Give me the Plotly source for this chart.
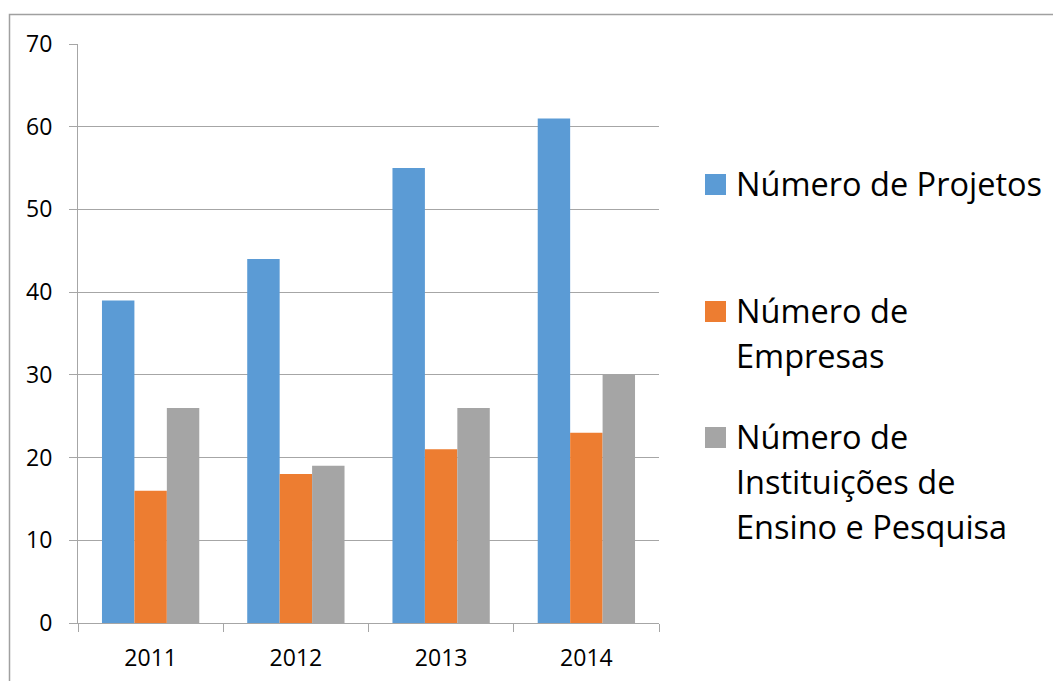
import plotly.graph_objects as go

years = ["2011", "2012", "2013", "2014"]
projetos = [39, 44, 55, 61]
empresas = [16, 18, 21, 23]
instituicoes = [26, 19, 26, 30]
series_names = ["Número de Projetos", "Número de<br>Empresas", "Número de<br>Instituições de<br>Ensino e Pesquisa"]
series_values = [projetos, empresas, instituicoes]
series_colors = ["#5B9BD5", "#ED7D31", "#A5A5A5"]
y_ticks = [0, 10, 20, 30, 40, 50, 60, 70]

W, H = 1053, 681
ML, MR, MT, MB = 78, 394, 44, 58
PW, PH = W - ML - MR, H - MT - MB

def px_x(p):
    return (p - ML) / PW

def px_y(p):
    return (H - MB - p) / PH

fig = go.Figure()
for name, vals, col in zip(series_names, series_values, series_colors):
    fig.add_trace(go.Bar(x=years, y=vals, name=name.replace("<br>", " "),
                         marker=dict(color=col, line=dict(width=0)),
                         showlegend=False))

FONT = "Open Sans"
GRID = "#A6A6A6"

# manual legend (squares + text lines)
legend_tops = [174, 301, 427]
line_h = 45
sq = 21
for name, col, top in zip(series_names, series_colors, legend_tops):
    fig.add_shape(type="rect", xref="paper", yref="paper",
                  x0=px_x(705), x1=px_x(705 + sq), y0=px_y(top + sq), y1=px_y(top),
                  fillcolor=col, line=dict(width=0))
    for i, line in enumerate(name.split("<br>")):
        cy = top + sq / 2 + i * line_h
        fig.add_annotation(xref="paper", yref="paper", x=px_x(734), y=px_y(cy - 1),
                           xanchor="left", yanchor="middle", showarrow=False,
                           text=line, font=dict(family=FONT, size=32.5, color="#000000"))

# outer frame
fig.add_shape(type="rect", xref="paper", yref="paper",
              x0=px_x(9.5), x1=px_x(1070), y0=px_y(700), y1=px_y(14.5),
              line=dict(color="#A0A0A0", width=1.5), fillcolor="rgba(0,0,0,0)", layer="below")

fig.update_layout(
    width=W, height=H,
    margin=dict(l=ML, r=MR, t=MT, b=MB, pad=0, autoexpand=False),
    barmode="group", bargap=0.33, bargroupgap=0,
    plot_bgcolor="white", paper_bgcolor="white",
    font=dict(family=FONT, size=23, color="#000000"),
    showlegend=False,
)
fig.update_xaxes(type="category", showline=True, linecolor=GRID, linewidth=1,
                 ticks="outside", tickson="boundaries", ticklen=8, tickcolor=GRID,
                 showgrid=False, ticklabelstandoff=14, automargin=False,
                 tickfont=dict(family=FONT, size=23, color="#000000"))
fig.update_yaxes(range=[0, 70], tickvals=y_ticks, showline=True, linecolor=GRID, linewidth=1,
                 ticks="outside", ticklen=8, tickcolor=GRID,
                 showgrid=True, gridcolor=GRID, gridwidth=1, zeroline=False,
                 ticklabelstandoff=12, automargin=False,
                 tickfont=dict(family=FONT, size=23, color="#000000"))

fig.write_html("out.html")
